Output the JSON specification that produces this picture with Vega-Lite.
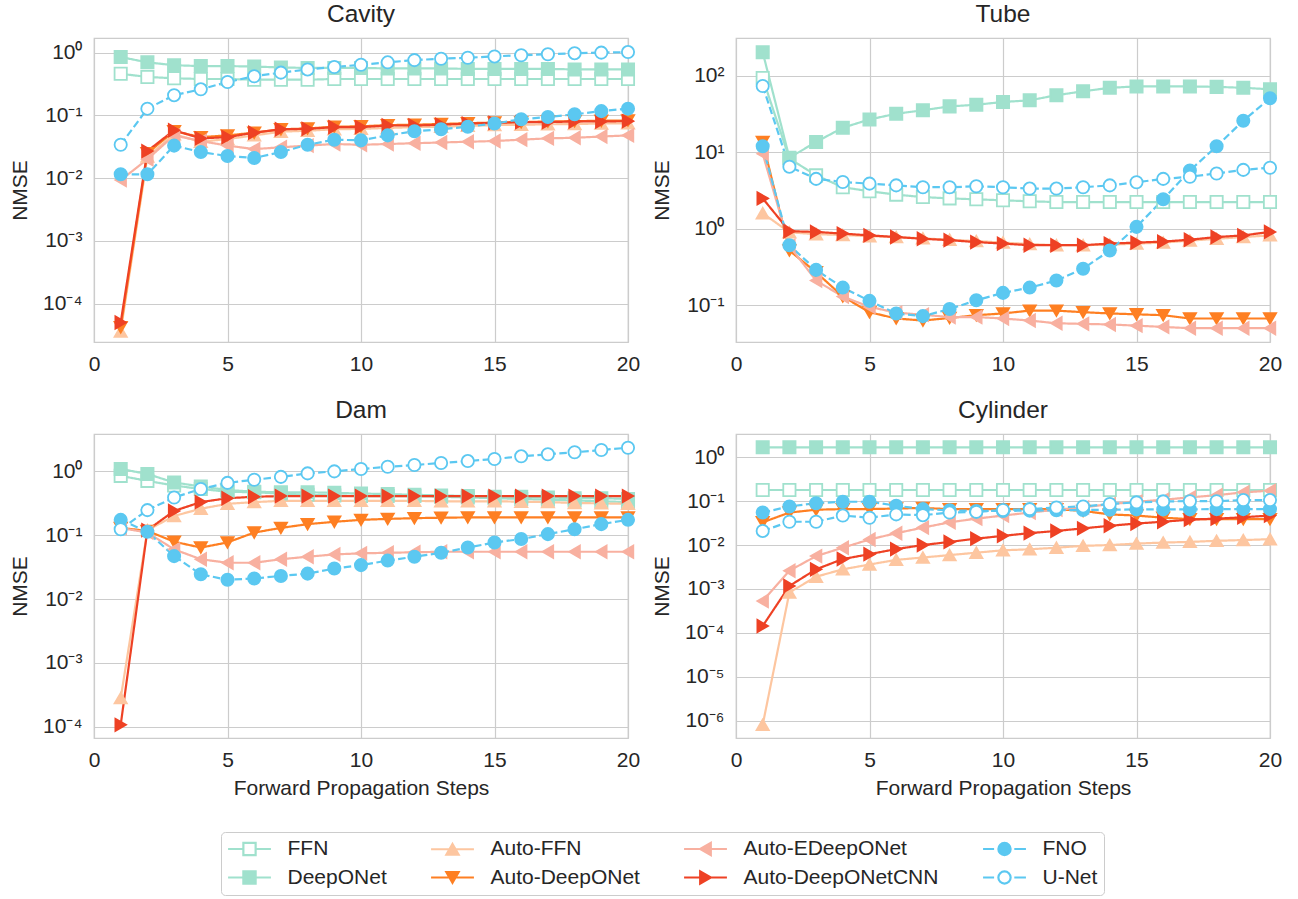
{
"$schema": "https://vega.github.io/schema/vega-lite/v6.json",
"background": "white",
"padding": {"left": 8, "top": 0, "right": 5, "bottom": 0},
"bounds": "flush",
"columns": 2,
"spacing": {"row": 92, "column": 108},
"config": {
  "font": "Liberation Sans",
  "view": {"stroke": "#cccccc", "strokeWidth": 1.25},
  "title": {"font": "Liberation Sans", "fontSize": 24.5, "fontWeight": "normal", "color": "#262626", "offset": 11},
  "axis": {"labelFont": "Liberation Sans", "labelFontSize": 21, "labelColor": "#262626", "titleFont": "Liberation Sans", "titleFontSize": 21, "titleFontWeight": "normal", "titleColor": "#262626", "gridColor": "#cccccc", "gridWidth": 1.2, "domain": false, "ticks": false, "tickSize": 0, "labelFlush": false, "labelOverlap": false, "labelBound": false},
  "legend": {"labelFont": "Liberation Sans", "labelFontSize": 21, "labelColor": "#262626", "labelLimit": 400}
},
"datasets": {
"cavity": [
{"model":"FFN","step":1,"nmse":0.46},{"model":"FFN","step":2,"nmse":0.41},{"model":"FFN","step":3,"nmse":0.39},{"model":"FFN","step":4,"nmse":0.38},{"model":"FFN","step":5,"nmse":0.38},{"model":"FFN","step":6,"nmse":0.37},{"model":"FFN","step":7,"nmse":0.37},{"model":"FFN","step":8,"nmse":0.37},{"model":"FFN","step":9,"nmse":0.38},{"model":"FFN","step":10,"nmse":0.38},{"model":"FFN","step":11,"nmse":0.38},{"model":"FFN","step":12,"nmse":0.38},{"model":"FFN","step":13,"nmse":0.38},{"model":"FFN","step":14,"nmse":0.38},{"model":"FFN","step":15,"nmse":0.38},{"model":"FFN","step":16,"nmse":0.38},{"model":"FFN","step":17,"nmse":0.38},{"model":"FFN","step":18,"nmse":0.38},{"model":"FFN","step":19,"nmse":0.38},{"model":"FFN","step":20,"nmse":0.38},
{"model":"DeepONet","step":1,"nmse":0.85},{"model":"DeepONet","step":2,"nmse":0.70},{"model":"DeepONet","step":3,"nmse":0.63},{"model":"DeepONet","step":4,"nmse":0.61},{"model":"DeepONet","step":5,"nmse":0.61},{"model":"DeepONet","step":6,"nmse":0.60},{"model":"DeepONet","step":7,"nmse":0.58},{"model":"DeepONet","step":8,"nmse":0.57},{"model":"DeepONet","step":9,"nmse":0.57},{"model":"DeepONet","step":10,"nmse":0.57},{"model":"DeepONet","step":11,"nmse":0.56},{"model":"DeepONet","step":12,"nmse":0.56},{"model":"DeepONet","step":13,"nmse":0.56},{"model":"DeepONet","step":14,"nmse":0.55},{"model":"DeepONet","step":15,"nmse":0.55},{"model":"DeepONet","step":16,"nmse":0.55},{"model":"DeepONet","step":17,"nmse":0.55},{"model":"DeepONet","step":18,"nmse":0.54},{"model":"DeepONet","step":19,"nmse":0.54},{"model":"DeepONet","step":20,"nmse":0.54},
{"model":"Auto-FFN","step":1,"nmse":0.000036},{"model":"Auto-FFN","step":2,"nmse":0.022},{"model":"Auto-FFN","step":3,"nmse":0.05},{"model":"Auto-FFN","step":4,"nmse":0.038},{"model":"Auto-FFN","step":5,"nmse":0.042},{"model":"Auto-FFN","step":6,"nmse":0.048},{"model":"Auto-FFN","step":7,"nmse":0.055},{"model":"Auto-FFN","step":8,"nmse":0.057},{"model":"Auto-FFN","step":9,"nmse":0.06},{"model":"Auto-FFN","step":10,"nmse":0.061},{"model":"Auto-FFN","step":11,"nmse":0.063},{"model":"Auto-FFN","step":12,"nmse":0.065},{"model":"Auto-FFN","step":13,"nmse":0.066},{"model":"Auto-FFN","step":14,"nmse":0.068},{"model":"Auto-FFN","step":15,"nmse":0.07},{"model":"Auto-FFN","step":16,"nmse":0.071},{"model":"Auto-FFN","step":17,"nmse":0.072},{"model":"Auto-FFN","step":18,"nmse":0.073},{"model":"Auto-FFN","step":19,"nmse":0.074},{"model":"Auto-FFN","step":20,"nmse":0.075},
{"model":"Auto-DeepONet","step":1,"nmse":0.000042},{"model":"Auto-DeepONet","step":2,"nmse":0.025},{"model":"Auto-DeepONet","step":3,"nmse":0.056},{"model":"Auto-DeepONet","step":4,"nmse":0.045},{"model":"Auto-DeepONet","step":5,"nmse":0.048},{"model":"Auto-DeepONet","step":6,"nmse":0.053},{"model":"Auto-DeepONet","step":7,"nmse":0.06},{"model":"Auto-DeepONet","step":8,"nmse":0.062},{"model":"Auto-DeepONet","step":9,"nmse":0.066},{"model":"Auto-DeepONet","step":10,"nmse":0.067},{"model":"Auto-DeepONet","step":11,"nmse":0.07},{"model":"Auto-DeepONet","step":12,"nmse":0.071},{"model":"Auto-DeepONet","step":13,"nmse":0.073},{"model":"Auto-DeepONet","step":14,"nmse":0.075},{"model":"Auto-DeepONet","step":15,"nmse":0.077},{"model":"Auto-DeepONet","step":16,"nmse":0.078},{"model":"Auto-DeepONet","step":17,"nmse":0.08},{"model":"Auto-DeepONet","step":18,"nmse":0.081},{"model":"Auto-DeepONet","step":19,"nmse":0.082},{"model":"Auto-DeepONet","step":20,"nmse":0.083},
{"model":"Auto-EDeepONet","step":1,"nmse":0.0093},{"model":"Auto-EDeepONet","step":2,"nmse":0.02},{"model":"Auto-EDeepONet","step":3,"nmse":0.048},{"model":"Auto-EDeepONet","step":4,"nmse":0.039},{"model":"Auto-EDeepONet","step":5,"nmse":0.033},{"model":"Auto-EDeepONet","step":6,"nmse":0.029},{"model":"Auto-EDeepONet","step":7,"nmse":0.031},{"model":"Auto-EDeepONet","step":8,"nmse":0.033},{"model":"Auto-EDeepONet","step":9,"nmse":0.035},{"model":"Auto-EDeepONet","step":10,"nmse":0.034},{"model":"Auto-EDeepONet","step":11,"nmse":0.035},{"model":"Auto-EDeepONet","step":12,"nmse":0.036},{"model":"Auto-EDeepONet","step":13,"nmse":0.037},{"model":"Auto-EDeepONet","step":14,"nmse":0.038},{"model":"Auto-EDeepONet","step":15,"nmse":0.039},{"model":"Auto-EDeepONet","step":16,"nmse":0.041},{"model":"Auto-EDeepONet","step":17,"nmse":0.043},{"model":"Auto-EDeepONet","step":18,"nmse":0.044},{"model":"Auto-EDeepONet","step":19,"nmse":0.046},{"model":"Auto-EDeepONet","step":20,"nmse":0.048},
{"model":"Auto-DeepONetCNN","step":1,"nmse":0.00005},{"model":"Auto-DeepONetCNN","step":2,"nmse":0.027},{"model":"Auto-DeepONetCNN","step":3,"nmse":0.058},{"model":"Auto-DeepONetCNN","step":4,"nmse":0.043},{"model":"Auto-DeepONetCNN","step":5,"nmse":0.045},{"model":"Auto-DeepONetCNN","step":6,"nmse":0.053},{"model":"Auto-DeepONetCNN","step":7,"nmse":0.06},{"model":"Auto-DeepONetCNN","step":8,"nmse":0.061},{"model":"Auto-DeepONetCNN","step":9,"nmse":0.065},{"model":"Auto-DeepONetCNN","step":10,"nmse":0.065},{"model":"Auto-DeepONetCNN","step":11,"nmse":0.069},{"model":"Auto-DeepONetCNN","step":12,"nmse":0.069},{"model":"Auto-DeepONetCNN","step":13,"nmse":0.071},{"model":"Auto-DeepONetCNN","step":14,"nmse":0.074},{"model":"Auto-DeepONetCNN","step":15,"nmse":0.076},{"model":"Auto-DeepONetCNN","step":16,"nmse":0.078},{"model":"Auto-DeepONetCNN","step":17,"nmse":0.078},{"model":"Auto-DeepONetCNN","step":18,"nmse":0.08},{"model":"Auto-DeepONetCNN","step":19,"nmse":0.08},{"model":"Auto-DeepONetCNN","step":20,"nmse":0.081},
{"model":"FNO","step":1,"nmse":0.0115},{"model":"FNO","step":2,"nmse":0.0115},{"model":"FNO","step":3,"nmse":0.033},{"model":"FNO","step":4,"nmse":0.026},{"model":"FNO","step":5,"nmse":0.0225},{"model":"FNO","step":6,"nmse":0.021},{"model":"FNO","step":7,"nmse":0.026},{"model":"FNO","step":8,"nmse":0.034},{"model":"FNO","step":9,"nmse":0.041},{"model":"FNO","step":10,"nmse":0.04},{"model":"FNO","step":11,"nmse":0.048},{"model":"FNO","step":12,"nmse":0.056},{"model":"FNO","step":13,"nmse":0.06},{"model":"FNO","step":14,"nmse":0.066},{"model":"FNO","step":15,"nmse":0.074},{"model":"FNO","step":16,"nmse":0.087},{"model":"FNO","step":17,"nmse":0.094},{"model":"FNO","step":18,"nmse":0.104},{"model":"FNO","step":19,"nmse":0.117},{"model":"FNO","step":20,"nmse":0.128},
{"model":"U-Net","step":1,"nmse":0.034},{"model":"U-Net","step":2,"nmse":0.128},{"model":"U-Net","step":3,"nmse":0.21},{"model":"U-Net","step":4,"nmse":0.26},{"model":"U-Net","step":5,"nmse":0.34},{"model":"U-Net","step":6,"nmse":0.42},{"model":"U-Net","step":7,"nmse":0.48},{"model":"U-Net","step":8,"nmse":0.54},{"model":"U-Net","step":9,"nmse":0.59},{"model":"U-Net","step":10,"nmse":0.64},{"model":"U-Net","step":11,"nmse":0.70},{"model":"U-Net","step":12,"nmse":0.76},{"model":"U-Net","step":13,"nmse":0.80},{"model":"U-Net","step":14,"nmse":0.83},{"model":"U-Net","step":15,"nmse":0.87},{"model":"U-Net","step":16,"nmse":0.91},{"model":"U-Net","step":17,"nmse":0.94},{"model":"U-Net","step":18,"nmse":0.98},{"model":"U-Net","step":19,"nmse":1.0},{"model":"U-Net","step":20,"nmse":1.02}
],
"tube": [
{"model":"FFN","step":1,"nmse":94},{"model":"FFN","step":2,"nmse":8.3},{"model":"FFN","step":3,"nmse":5.0},{"model":"FFN","step":4,"nmse":3.5},{"model":"FFN","step":5,"nmse":3.1},{"model":"FFN","step":6,"nmse":2.8},{"model":"FFN","step":7,"nmse":2.6},{"model":"FFN","step":8,"nmse":2.5},{"model":"FFN","step":9,"nmse":2.43},{"model":"FFN","step":10,"nmse":2.36},{"model":"FFN","step":11,"nmse":2.29},{"model":"FFN","step":12,"nmse":2.24},{"model":"FFN","step":13,"nmse":2.24},{"model":"FFN","step":14,"nmse":2.24},{"model":"FFN","step":15,"nmse":2.24},{"model":"FFN","step":16,"nmse":2.24},{"model":"FFN","step":17,"nmse":2.24},{"model":"FFN","step":18,"nmse":2.24},{"model":"FFN","step":19,"nmse":2.24},{"model":"FFN","step":20,"nmse":2.24},
{"model":"DeepONet","step":1,"nmse":205},{"model":"DeepONet","step":2,"nmse":8.5},{"model":"DeepONet","step":3,"nmse":13.7},{"model":"DeepONet","step":4,"nmse":21},{"model":"DeepONet","step":5,"nmse":27},{"model":"DeepONet","step":6,"nmse":32},{"model":"DeepONet","step":7,"nmse":35.6},{"model":"DeepONet","step":8,"nmse":40},{"model":"DeepONet","step":9,"nmse":42},{"model":"DeepONet","step":10,"nmse":45.7},{"model":"DeepONet","step":11,"nmse":48},{"model":"DeepONet","step":12,"nmse":56},{"model":"DeepONet","step":13,"nmse":63},{"model":"DeepONet","step":14,"nmse":70},{"model":"DeepONet","step":15,"nmse":73},{"model":"DeepONet","step":16,"nmse":73},{"model":"DeepONet","step":17,"nmse":73},{"model":"DeepONet","step":18,"nmse":72},{"model":"DeepONet","step":19,"nmse":70},{"model":"DeepONet","step":20,"nmse":67},
{"model":"Auto-FFN","step":1,"nmse":1.6},{"model":"Auto-FFN","step":2,"nmse":0.9},{"model":"Auto-FFN","step":3,"nmse":0.85},{"model":"Auto-FFN","step":4,"nmse":0.83},{"model":"Auto-FFN","step":5,"nmse":0.8},{"model":"Auto-FFN","step":6,"nmse":0.78},{"model":"Auto-FFN","step":7,"nmse":0.75},{"model":"Auto-FFN","step":8,"nmse":0.72},{"model":"Auto-FFN","step":9,"nmse":0.69},{"model":"Auto-FFN","step":10,"nmse":0.66},{"model":"Auto-FFN","step":11,"nmse":0.63},{"model":"Auto-FFN","step":12,"nmse":0.61},{"model":"Auto-FFN","step":13,"nmse":0.61},{"model":"Auto-FFN","step":14,"nmse":0.62},{"model":"Auto-FFN","step":15,"nmse":0.64},{"model":"Auto-FFN","step":16,"nmse":0.66},{"model":"Auto-FFN","step":17,"nmse":0.7},{"model":"Auto-FFN","step":18,"nmse":0.74},{"model":"Auto-FFN","step":19,"nmse":0.78},{"model":"Auto-FFN","step":20,"nmse":0.82},
{"model":"Auto-DeepONet","step":1,"nmse":13.7},{"model":"Auto-DeepONet","step":2,"nmse":0.52},{"model":"Auto-DeepONet","step":3,"nmse":0.27},{"model":"Auto-DeepONet","step":4,"nmse":0.13},{"model":"Auto-DeepONet","step":5,"nmse":0.081},{"model":"Auto-DeepONet","step":6,"nmse":0.067},{"model":"Auto-DeepONet","step":7,"nmse":0.063},{"model":"Auto-DeepONet","step":8,"nmse":0.068},{"model":"Auto-DeepONet","step":9,"nmse":0.074},{"model":"Auto-DeepONet","step":10,"nmse":0.078},{"model":"Auto-DeepONet","step":11,"nmse":0.085},{"model":"Auto-DeepONet","step":12,"nmse":0.085},{"model":"Auto-DeepONet","step":13,"nmse":0.081},{"model":"Auto-DeepONet","step":14,"nmse":0.078},{"model":"Auto-DeepONet","step":15,"nmse":0.076},{"model":"Auto-DeepONet","step":16,"nmse":0.074},{"model":"Auto-DeepONet","step":17,"nmse":0.067},{"model":"Auto-DeepONet","step":18,"nmse":0.067},{"model":"Auto-DeepONet","step":19,"nmse":0.067},{"model":"Auto-DeepONet","step":20,"nmse":0.067},
{"model":"Auto-EDeepONet","step":1,"nmse":9.6},{"model":"Auto-EDeepONet","step":2,"nmse":0.6},{"model":"Auto-EDeepONet","step":3,"nmse":0.21},{"model":"Auto-EDeepONet","step":4,"nmse":0.13},{"model":"Auto-EDeepONet","step":5,"nmse":0.095},{"model":"Auto-EDeepONet","step":6,"nmse":0.08},{"model":"Auto-EDeepONet","step":7,"nmse":0.075},{"model":"Auto-EDeepONet","step":8,"nmse":0.07},{"model":"Auto-EDeepONet","step":9,"nmse":0.07},{"model":"Auto-EDeepONet","step":10,"nmse":0.067},{"model":"Auto-EDeepONet","step":11,"nmse":0.063},{"model":"Auto-EDeepONet","step":12,"nmse":0.058},{"model":"Auto-EDeepONet","step":13,"nmse":0.057},{"model":"Auto-EDeepONet","step":14,"nmse":0.056},{"model":"Auto-EDeepONet","step":15,"nmse":0.054},{"model":"Auto-EDeepONet","step":16,"nmse":0.052},{"model":"Auto-EDeepONet","step":17,"nmse":0.05},{"model":"Auto-EDeepONet","step":18,"nmse":0.05},{"model":"Auto-EDeepONet","step":19,"nmse":0.05},{"model":"Auto-EDeepONet","step":20,"nmse":0.05},
{"model":"Auto-DeepONetCNN","step":1,"nmse":2.5},{"model":"Auto-DeepONetCNN","step":2,"nmse":0.93},{"model":"Auto-DeepONetCNN","step":3,"nmse":0.91},{"model":"Auto-DeepONetCNN","step":4,"nmse":0.865},{"model":"Auto-DeepONetCNN","step":5,"nmse":0.82},{"model":"Auto-DeepONetCNN","step":6,"nmse":0.78},{"model":"Auto-DeepONetCNN","step":7,"nmse":0.74},{"model":"Auto-DeepONetCNN","step":8,"nmse":0.71},{"model":"Auto-DeepONetCNN","step":9,"nmse":0.67},{"model":"Auto-DeepONetCNN","step":10,"nmse":0.64},{"model":"Auto-DeepONetCNN","step":11,"nmse":0.61},{"model":"Auto-DeepONetCNN","step":12,"nmse":0.61},{"model":"Auto-DeepONetCNN","step":13,"nmse":0.61},{"model":"Auto-DeepONetCNN","step":14,"nmse":0.64},{"model":"Auto-DeepONetCNN","step":15,"nmse":0.66},{"model":"Auto-DeepONetCNN","step":16,"nmse":0.68},{"model":"Auto-DeepONetCNN","step":17,"nmse":0.72},{"model":"Auto-DeepONetCNN","step":18,"nmse":0.78},{"model":"Auto-DeepONetCNN","step":19,"nmse":0.82},{"model":"Auto-DeepONetCNN","step":20,"nmse":0.91},
{"model":"FNO","step":1,"nmse":12},{"model":"FNO","step":2,"nmse":0.61},{"model":"FNO","step":3,"nmse":0.29},{"model":"FNO","step":4,"nmse":0.17},{"model":"FNO","step":5,"nmse":0.114},{"model":"FNO","step":6,"nmse":0.078},{"model":"FNO","step":7,"nmse":0.072},{"model":"FNO","step":8,"nmse":0.089},{"model":"FNO","step":9,"nmse":0.116},{"model":"FNO","step":10,"nmse":0.145},{"model":"FNO","step":11,"nmse":0.17},{"model":"FNO","step":12,"nmse":0.21},{"model":"FNO","step":13,"nmse":0.30},{"model":"FNO","step":14,"nmse":0.52},{"model":"FNO","step":15,"nmse":1.06},{"model":"FNO","step":16,"nmse":2.43},{"model":"FNO","step":17,"nmse":5.8},{"model":"FNO","step":18,"nmse":12},{"model":"FNO","step":19,"nmse":26},{"model":"FNO","step":20,"nmse":51},
{"model":"U-Net","step":1,"nmse":74},{"model":"U-Net","step":2,"nmse":6.5},{"model":"U-Net","step":3,"nmse":4.5},{"model":"U-Net","step":4,"nmse":4.1},{"model":"U-Net","step":5,"nmse":3.9},{"model":"U-Net","step":6,"nmse":3.7},{"model":"U-Net","step":7,"nmse":3.5},{"model":"U-Net","step":8,"nmse":3.5},{"model":"U-Net","step":9,"nmse":3.6},{"model":"U-Net","step":10,"nmse":3.5},{"model":"U-Net","step":11,"nmse":3.36},{"model":"U-Net","step":12,"nmse":3.36},{"model":"U-Net","step":13,"nmse":3.5},{"model":"U-Net","step":14,"nmse":3.7},{"model":"U-Net","step":15,"nmse":4.06},{"model":"U-Net","step":16,"nmse":4.5},{"model":"U-Net","step":17,"nmse":4.8},{"model":"U-Net","step":18,"nmse":5.3},{"model":"U-Net","step":19,"nmse":5.9},{"model":"U-Net","step":20,"nmse":6.3}
],
"dam": [
{"model":"FFN","step":1,"nmse":0.85},{"model":"FFN","step":2,"nmse":0.71},{"model":"FFN","step":3,"nmse":0.60},{"model":"FFN","step":4,"nmse":0.53},{"model":"FFN","step":5,"nmse":0.48},{"model":"FFN","step":6,"nmse":0.47},{"model":"FFN","step":7,"nmse":0.45},{"model":"FFN","step":8,"nmse":0.43},{"model":"FFN","step":9,"nmse":0.42},{"model":"FFN","step":10,"nmse":0.41},{"model":"FFN","step":11,"nmse":0.41},{"model":"FFN","step":12,"nmse":0.41},{"model":"FFN","step":13,"nmse":0.40},{"model":"FFN","step":14,"nmse":0.39},{"model":"FFN","step":15,"nmse":0.38},{"model":"FFN","step":16,"nmse":0.37},{"model":"FFN","step":17,"nmse":0.36},{"model":"FFN","step":18,"nmse":0.35},{"model":"FFN","step":19,"nmse":0.34},{"model":"FFN","step":20,"nmse":0.33},
{"model":"DeepONet","step":1,"nmse":1.09},{"model":"DeepONet","step":2,"nmse":0.91},{"model":"DeepONet","step":3,"nmse":0.67},{"model":"DeepONet","step":4,"nmse":0.58},{"model":"DeepONet","step":5,"nmse":0.51},{"model":"DeepONet","step":6,"nmse":0.48},{"model":"DeepONet","step":7,"nmse":0.47},{"model":"DeepONet","step":8,"nmse":0.47},{"model":"DeepONet","step":9,"nmse":0.46},{"model":"DeepONet","step":10,"nmse":0.45},{"model":"DeepONet","step":11,"nmse":0.44},{"model":"DeepONet","step":12,"nmse":0.43},{"model":"DeepONet","step":13,"nmse":0.42},{"model":"DeepONet","step":14,"nmse":0.41},{"model":"DeepONet","step":15,"nmse":0.40},{"model":"DeepONet","step":16,"nmse":0.40},{"model":"DeepONet","step":17,"nmse":0.39},{"model":"DeepONet","step":18,"nmse":0.38},{"model":"DeepONet","step":19,"nmse":0.38},{"model":"DeepONet","step":20,"nmse":0.37},
{"model":"Auto-FFN","step":1,"nmse":0.00028},{"model":"Auto-FFN","step":2,"nmse":0.12},{"model":"Auto-FFN","step":3,"nmse":0.2},{"model":"Auto-FFN","step":4,"nmse":0.26},{"model":"Auto-FFN","step":5,"nmse":0.31},{"model":"Auto-FFN","step":6,"nmse":0.33},{"model":"Auto-FFN","step":7,"nmse":0.345},{"model":"Auto-FFN","step":8,"nmse":0.345},{"model":"Auto-FFN","step":9,"nmse":0.345},{"model":"Auto-FFN","step":10,"nmse":0.345},{"model":"Auto-FFN","step":11,"nmse":0.345},{"model":"Auto-FFN","step":12,"nmse":0.345},{"model":"Auto-FFN","step":13,"nmse":0.34},{"model":"Auto-FFN","step":14,"nmse":0.34},{"model":"Auto-FFN","step":15,"nmse":0.34},{"model":"Auto-FFN","step":16,"nmse":0.335},{"model":"Auto-FFN","step":17,"nmse":0.33},{"model":"Auto-FFN","step":18,"nmse":0.32},{"model":"Auto-FFN","step":19,"nmse":0.315},{"model":"Auto-FFN","step":20,"nmse":0.31},
{"model":"Auto-DeepONet","step":1,"nmse":0.13},{"model":"Auto-DeepONet","step":2,"nmse":0.117},{"model":"Auto-DeepONet","step":3,"nmse":0.079},{"model":"Auto-DeepONet","step":4,"nmse":0.064},{"model":"Auto-DeepONet","step":5,"nmse":0.077},{"model":"Auto-DeepONet","step":6,"nmse":0.11},{"model":"Auto-DeepONet","step":7,"nmse":0.13},{"model":"Auto-DeepONet","step":8,"nmse":0.149},{"model":"Auto-DeepONet","step":9,"nmse":0.162},{"model":"Auto-DeepONet","step":10,"nmse":0.174},{"model":"Auto-DeepONet","step":11,"nmse":0.18},{"model":"Auto-DeepONet","step":12,"nmse":0.185},{"model":"Auto-DeepONet","step":13,"nmse":0.188},{"model":"Auto-DeepONet","step":14,"nmse":0.19},{"model":"Auto-DeepONet","step":15,"nmse":0.19},{"model":"Auto-DeepONet","step":16,"nmse":0.19},{"model":"Auto-DeepONet","step":17,"nmse":0.19},{"model":"Auto-DeepONet","step":18,"nmse":0.19},{"model":"Auto-DeepONet","step":19,"nmse":0.19},{"model":"Auto-DeepONet","step":20,"nmse":0.19},
{"model":"Auto-EDeepONet","step":1,"nmse":0.13},{"model":"Auto-EDeepONet","step":2,"nmse":0.11},{"model":"Auto-EDeepONet","step":3,"nmse":0.06},{"model":"Auto-EDeepONet","step":4,"nmse":0.042},{"model":"Auto-EDeepONet","step":5,"nmse":0.037},{"model":"Auto-EDeepONet","step":6,"nmse":0.037},{"model":"Auto-EDeepONet","step":7,"nmse":0.042},{"model":"Auto-EDeepONet","step":8,"nmse":0.046},{"model":"Auto-EDeepONet","step":9,"nmse":0.05},{"model":"Auto-EDeepONet","step":10,"nmse":0.052},{"model":"Auto-EDeepONet","step":11,"nmse":0.053},{"model":"Auto-EDeepONet","step":12,"nmse":0.054},{"model":"Auto-EDeepONet","step":13,"nmse":0.055},{"model":"Auto-EDeepONet","step":14,"nmse":0.055},{"model":"Auto-EDeepONet","step":15,"nmse":0.055},{"model":"Auto-EDeepONet","step":16,"nmse":0.055},{"model":"Auto-EDeepONet","step":17,"nmse":0.055},{"model":"Auto-EDeepONet","step":18,"nmse":0.055},{"model":"Auto-EDeepONet","step":19,"nmse":0.055},{"model":"Auto-EDeepONet","step":20,"nmse":0.055},
{"model":"Auto-DeepONetCNN","step":1,"nmse":0.000107},{"model":"Auto-DeepONetCNN","step":2,"nmse":0.12},{"model":"Auto-DeepONetCNN","step":3,"nmse":0.24},{"model":"Auto-DeepONetCNN","step":4,"nmse":0.33},{"model":"Auto-DeepONetCNN","step":5,"nmse":0.38},{"model":"Auto-DeepONetCNN","step":6,"nmse":0.40},{"model":"Auto-DeepONetCNN","step":7,"nmse":0.41},{"model":"Auto-DeepONetCNN","step":8,"nmse":0.41},{"model":"Auto-DeepONetCNN","step":9,"nmse":0.41},{"model":"Auto-DeepONetCNN","step":10,"nmse":0.41},{"model":"Auto-DeepONetCNN","step":11,"nmse":0.41},{"model":"Auto-DeepONetCNN","step":12,"nmse":0.41},{"model":"Auto-DeepONetCNN","step":13,"nmse":0.41},{"model":"Auto-DeepONetCNN","step":14,"nmse":0.41},{"model":"Auto-DeepONetCNN","step":15,"nmse":0.41},{"model":"Auto-DeepONetCNN","step":16,"nmse":0.41},{"model":"Auto-DeepONetCNN","step":17,"nmse":0.41},{"model":"Auto-DeepONetCNN","step":18,"nmse":0.41},{"model":"Auto-DeepONetCNN","step":19,"nmse":0.41},{"model":"Auto-DeepONetCNN","step":20,"nmse":0.41},
{"model":"FNO","step":1,"nmse":0.174},{"model":"FNO","step":2,"nmse":0.113},{"model":"FNO","step":3,"nmse":0.047},{"model":"FNO","step":4,"nmse":0.0244},{"model":"FNO","step":5,"nmse":0.02},{"model":"FNO","step":6,"nmse":0.021},{"model":"FNO","step":7,"nmse":0.023},{"model":"FNO","step":8,"nmse":0.025},{"model":"FNO","step":9,"nmse":0.030},{"model":"FNO","step":10,"nmse":0.034},{"model":"FNO","step":11,"nmse":0.04},{"model":"FNO","step":12,"nmse":0.046},{"model":"FNO","step":13,"nmse":0.053},{"model":"FNO","step":14,"nmse":0.064},{"model":"FNO","step":15,"nmse":0.077},{"model":"FNO","step":16,"nmse":0.087},{"model":"FNO","step":17,"nmse":0.104},{"model":"FNO","step":18,"nmse":0.124},{"model":"FNO","step":19,"nmse":0.149},{"model":"FNO","step":20,"nmse":0.174},
{"model":"U-Net","step":1,"nmse":0.124},{"model":"U-Net","step":2,"nmse":0.247},{"model":"U-Net","step":3,"nmse":0.39},{"model":"U-Net","step":4,"nmse":0.53},{"model":"U-Net","step":5,"nmse":0.66},{"model":"U-Net","step":6,"nmse":0.74},{"model":"U-Net","step":7,"nmse":0.82},{"model":"U-Net","step":8,"nmse":0.93},{"model":"U-Net","step":9,"nmse":1.0},{"model":"U-Net","step":10,"nmse":1.09},{"model":"U-Net","step":11,"nmse":1.18},{"model":"U-Net","step":12,"nmse":1.26},{"model":"U-Net","step":13,"nmse":1.35},{"model":"U-Net","step":14,"nmse":1.45},{"model":"U-Net","step":15,"nmse":1.56},{"model":"U-Net","step":16,"nmse":1.72},{"model":"U-Net","step":17,"nmse":1.85},{"model":"U-Net","step":18,"nmse":1.99},{"model":"U-Net","step":19,"nmse":2.16},{"model":"U-Net","step":20,"nmse":2.35}
],
"cylinder": [
{"model":"FFN","step":1,"nmse":0.18},{"model":"FFN","step":2,"nmse":0.18},{"model":"FFN","step":3,"nmse":0.18},{"model":"FFN","step":4,"nmse":0.18},{"model":"FFN","step":5,"nmse":0.18},{"model":"FFN","step":6,"nmse":0.18},{"model":"FFN","step":7,"nmse":0.18},{"model":"FFN","step":8,"nmse":0.18},{"model":"FFN","step":9,"nmse":0.18},{"model":"FFN","step":10,"nmse":0.18},{"model":"FFN","step":11,"nmse":0.18},{"model":"FFN","step":12,"nmse":0.18},{"model":"FFN","step":13,"nmse":0.18},{"model":"FFN","step":14,"nmse":0.18},{"model":"FFN","step":15,"nmse":0.18},{"model":"FFN","step":16,"nmse":0.18},{"model":"FFN","step":17,"nmse":0.18},{"model":"FFN","step":18,"nmse":0.18},{"model":"FFN","step":19,"nmse":0.18},{"model":"FFN","step":20,"nmse":0.18},
{"model":"DeepONet","step":1,"nmse":1.69},{"model":"DeepONet","step":2,"nmse":1.69},{"model":"DeepONet","step":3,"nmse":1.69},{"model":"DeepONet","step":4,"nmse":1.69},{"model":"DeepONet","step":5,"nmse":1.69},{"model":"DeepONet","step":6,"nmse":1.69},{"model":"DeepONet","step":7,"nmse":1.69},{"model":"DeepONet","step":8,"nmse":1.69},{"model":"DeepONet","step":9,"nmse":1.69},{"model":"DeepONet","step":10,"nmse":1.69},{"model":"DeepONet","step":11,"nmse":1.69},{"model":"DeepONet","step":12,"nmse":1.69},{"model":"DeepONet","step":13,"nmse":1.69},{"model":"DeepONet","step":14,"nmse":1.69},{"model":"DeepONet","step":15,"nmse":1.69},{"model":"DeepONet","step":16,"nmse":1.69},{"model":"DeepONet","step":17,"nmse":1.69},{"model":"DeepONet","step":18,"nmse":1.69},{"model":"DeepONet","step":19,"nmse":1.69},{"model":"DeepONet","step":20,"nmse":1.69},
{"model":"Auto-FFN","step":1,"nmse":0.0000008},{"model":"Auto-FFN","step":2,"nmse":0.00083},{"model":"Auto-FFN","step":3,"nmse":0.0019},{"model":"Auto-FFN","step":4,"nmse":0.0028},{"model":"Auto-FFN","step":5,"nmse":0.0036},{"model":"Auto-FFN","step":6,"nmse":0.0046},{"model":"Auto-FFN","step":7,"nmse":0.0052},{"model":"Auto-FFN","step":8,"nmse":0.0059},{"model":"Auto-FFN","step":9,"nmse":0.0067},{"model":"Auto-FFN","step":10,"nmse":0.0076},{"model":"Auto-FFN","step":11,"nmse":0.008},{"model":"Auto-FFN","step":12,"nmse":0.0087},{"model":"Auto-FFN","step":13,"nmse":0.0096},{"model":"Auto-FFN","step":14,"nmse":0.01},{"model":"Auto-FFN","step":15,"nmse":0.0108},{"model":"Auto-FFN","step":16,"nmse":0.0114},{"model":"Auto-FFN","step":17,"nmse":0.0118},{"model":"Auto-FFN","step":18,"nmse":0.0125},{"model":"Auto-FFN","step":19,"nmse":0.013},{"model":"Auto-FFN","step":20,"nmse":0.0136},
{"model":"Auto-DeepONet","step":1,"nmse":0.033},{"model":"Auto-DeepONet","step":2,"nmse":0.055},{"model":"Auto-DeepONet","step":3,"nmse":0.064},{"model":"Auto-DeepONet","step":4,"nmse":0.066},{"model":"Auto-DeepONet","step":5,"nmse":0.066},{"model":"Auto-DeepONet","step":6,"nmse":0.068},{"model":"Auto-DeepONet","step":7,"nmse":0.07},{"model":"Auto-DeepONet","step":8,"nmse":0.066},{"model":"Auto-DeepONet","step":9,"nmse":0.066},{"model":"Auto-DeepONet","step":10,"nmse":0.066},{"model":"Auto-DeepONet","step":11,"nmse":0.066},{"model":"Auto-DeepONet","step":12,"nmse":0.066},{"model":"Auto-DeepONet","step":13,"nmse":0.06},{"model":"Auto-DeepONet","step":14,"nmse":0.05},{"model":"Auto-DeepONet","step":15,"nmse":0.047},{"model":"Auto-DeepONet","step":16,"nmse":0.042},{"model":"Auto-DeepONet","step":17,"nmse":0.039},{"model":"Auto-DeepONet","step":18,"nmse":0.039},{"model":"Auto-DeepONet","step":19,"nmse":0.039},{"model":"Auto-DeepONet","step":20,"nmse":0.039},
{"model":"Auto-EDeepONet","step":1,"nmse":0.00053},{"model":"Auto-EDeepONet","step":2,"nmse":0.0026},{"model":"Auto-EDeepONet","step":3,"nmse":0.0056},{"model":"Auto-EDeepONet","step":4,"nmse":0.0087},{"model":"Auto-EDeepONet","step":5,"nmse":0.0134},{"model":"Auto-EDeepONet","step":6,"nmse":0.0186},{"model":"Auto-EDeepONet","step":7,"nmse":0.025},{"model":"Auto-EDeepONet","step":8,"nmse":0.033},{"model":"Auto-EDeepONet","step":9,"nmse":0.04},{"model":"Auto-EDeepONet","step":10,"nmse":0.047},{"model":"Auto-EDeepONet","step":11,"nmse":0.055},{"model":"Auto-EDeepONet","step":12,"nmse":0.064},{"model":"Auto-EDeepONet","step":13,"nmse":0.072},{"model":"Auto-EDeepONet","step":14,"nmse":0.086},{"model":"Auto-EDeepONet","step":15,"nmse":0.097},{"model":"Auto-EDeepONet","step":16,"nmse":0.108},{"model":"Auto-EDeepONet","step":17,"nmse":0.122},{"model":"Auto-EDeepONet","step":18,"nmse":0.137},{"model":"Auto-EDeepONet","step":19,"nmse":0.159},{"model":"Auto-EDeepONet","step":20,"nmse":0.173},
{"model":"Auto-DeepONetCNN","step":1,"nmse":0.000143},{"model":"Auto-DeepONetCNN","step":2,"nmse":0.00117},{"model":"Auto-DeepONetCNN","step":3,"nmse":0.0028},{"model":"Auto-DeepONetCNN","step":4,"nmse":0.0048},{"model":"Auto-DeepONetCNN","step":5,"nmse":0.0062},{"model":"Auto-DeepONetCNN","step":6,"nmse":0.0081},{"model":"Auto-DeepONetCNN","step":7,"nmse":0.01},{"model":"Auto-DeepONetCNN","step":8,"nmse":0.0118},{"model":"Auto-DeepONetCNN","step":9,"nmse":0.014},{"model":"Auto-DeepONetCNN","step":10,"nmse":0.0162},{"model":"Auto-DeepONetCNN","step":11,"nmse":0.0187},{"model":"Auto-DeepONetCNN","step":12,"nmse":0.021},{"model":"Auto-DeepONetCNN","step":13,"nmse":0.024},{"model":"Auto-DeepONetCNN","step":14,"nmse":0.0275},{"model":"Auto-DeepONetCNN","step":15,"nmse":0.031},{"model":"Auto-DeepONetCNN","step":16,"nmse":0.034},{"model":"Auto-DeepONetCNN","step":17,"nmse":0.038},{"model":"Auto-DeepONetCNN","step":18,"nmse":0.04},{"model":"Auto-DeepONetCNN","step":19,"nmse":0.043},{"model":"Auto-DeepONetCNN","step":20,"nmse":0.047},
{"model":"FNO","step":1,"nmse":0.055},{"model":"FNO","step":2,"nmse":0.076},{"model":"FNO","step":3,"nmse":0.09},{"model":"FNO","step":4,"nmse":0.097},{"model":"FNO","step":5,"nmse":0.097},{"model":"FNO","step":6,"nmse":0.079},{"model":"FNO","step":7,"nmse":0.066},{"model":"FNO","step":8,"nmse":0.062},{"model":"FNO","step":9,"nmse":0.06},{"model":"FNO","step":10,"nmse":0.06},{"model":"FNO","step":11,"nmse":0.061},{"model":"FNO","step":12,"nmse":0.062},{"model":"FNO","step":13,"nmse":0.063},{"model":"FNO","step":14,"nmse":0.064},{"model":"FNO","step":15,"nmse":0.065},{"model":"FNO","step":16,"nmse":0.065},{"model":"FNO","step":17,"nmse":0.065},{"model":"FNO","step":18,"nmse":0.066},{"model":"FNO","step":19,"nmse":0.066},{"model":"FNO","step":20,"nmse":0.066},
{"model":"U-Net","step":1,"nmse":0.021},{"model":"U-Net","step":2,"nmse":0.034},{"model":"U-Net","step":3,"nmse":0.034},{"model":"U-Net","step":4,"nmse":0.047},{"model":"U-Net","step":5,"nmse":0.042},{"model":"U-Net","step":6,"nmse":0.05},{"model":"U-Net","step":7,"nmse":0.048},{"model":"U-Net","step":8,"nmse":0.055},{"model":"U-Net","step":9,"nmse":0.057},{"model":"U-Net","step":10,"nmse":0.063},{"model":"U-Net","step":11,"nmse":0.066},{"model":"U-Net","step":12,"nmse":0.072},{"model":"U-Net","step":13,"nmse":0.076},{"model":"U-Net","step":14,"nmse":0.086},{"model":"U-Net","step":15,"nmse":0.094},{"model":"U-Net","step":16,"nmse":0.099},{"model":"U-Net","step":17,"nmse":0.10},{"model":"U-Net","step":18,"nmse":0.10},{"model":"U-Net","step":19,"nmse":0.106},{"model":"U-Net","step":20,"nmse":0.106}
]
},
"concat": [
{
 "data": {"name": "cavity"}, "title": "Cavity", "width": 534, "height": 304,
 "encoding": {
  "x": {"field": "step", "type": "quantitative", "scale": {"domain": [0, 20], "nice": false}, "axis": {"values": [0,5,10,15,20], "title": null, "labelPadding": 11}},
  "y": {"field": "nmse", "type": "quantitative", "scale": {"type": "log", "domain": [0.0000245, 1.71], "nice": false}, "axis": {"values": [0.0001,0.001,0.01,0.1,1], "title": "NMSE", "titleX": -64, "labelPadding": 12, "labelExpr": "'10' + (datum.value < 0.99 ? '⁻' : '') + substring('⁰¹²³⁴⁵⁶⁷⁸⁹', abs(round(log(datum.value)/LN10)), abs(round(log(datum.value)/LN10)) + 1)"}}
 },
 "layer": [
  {"mark": {"type": "line", "strokeWidth": 2.2},
   "encoding": {
    "color": {"field": "model", "type": "nominal", "legend": null, "scale": {"domain": ["FFN","DeepONet","Auto-FFN","Auto-DeepONet","Auto-EDeepONet","Auto-DeepONetCNN","FNO","U-Net"], "range": ["#a0e1cd","#a0e1cd","#fdc6a0","#fe7f22","#f8b0a0","#ee4124","#5bc8f1","#5bc8f1"]}},
    "strokeDash": {"field": "model", "type": "nominal", "legend": null, "scale": {"domain": ["FFN","DeepONet","Auto-FFN","Auto-DeepONet","Auto-EDeepONet","Auto-DeepONetCNN","FNO","U-Net"], "range": [[1,0],[1,0],[1,0],[1,0],[1,0],[1,0],[7.5,3.5],[7.5,3.5]]}}
   }},
  {"mark": {"type": "point", "size": 150, "strokeWidth": 1.8, "opacity": 1, "filled": true},
   "encoding": {
    "shape": {"field": "model", "type": "nominal", "legend": null, "scale": {"domain": ["FFN","DeepONet","Auto-FFN","Auto-DeepONet","Auto-EDeepONet","Auto-DeepONetCNN","FNO","U-Net"], "range": ["square","square","triangle-up","triangle-down","triangle-left","triangle-right","circle","circle"]}},
    "fill": {"field": "model", "type": "nominal", "legend": null, "scale": {"domain": ["FFN","DeepONet","Auto-FFN","Auto-DeepONet","Auto-EDeepONet","Auto-DeepONetCNN","FNO","U-Net"], "range": ["#ffffff","#a0e1cd","#fdc6a0","#fe7f22","#f8b0a0","#ee4124","#5bc8f1","#ffffff"]}},
    "stroke": {"field": "model", "type": "nominal", "legend": null, "scale": {"domain": ["FFN","DeepONet","Auto-FFN","Auto-DeepONet","Auto-EDeepONet","Auto-DeepONetCNN","FNO","U-Net"], "range": ["#a0e1cd","#a0e1cd","#fdc6a0","#fe7f22","#f8b0a0","#ee4124","#5bc8f1","#5bc8f1"]}}
   }},
  {"transform": [{"filter": {"field": "step", "equal": 1}}],
   "mark": {"type": "point", "size": 150, "strokeWidth": 2.2, "opacity": 0, "filled": true},
   "encoding": {
    "shape": {"field": "model", "type": "nominal", "scale": {"domain": ["FFN","DeepONet","Auto-FFN","Auto-DeepONet","Auto-EDeepONet","Auto-DeepONetCNN","FNO","U-Net"], "range": ["M-3.5,0H-1M1,0H3.5M-1,-1H1V1H-1Z","M-3.5,0H-1M1,0H3.5M-1,-1H1V1H-1Z","M-3.5,0H-0.5M0.5,0H3.5M0,-0.866L1,0.866L-1,0.866Z","M-3.5,0H-0.5M0.5,0H3.5M0,0.866L1,-0.866L-1,-0.866Z","M-3.5,0H-0.866M0.866,0H3.5M-0.866,0L0.866,-1L0.866,1Z","M-3.5,0H-0.866M0.866,0H3.5M0.866,0L-0.866,-1L-0.866,1Z","M-3.5,0H-1.7M1.6,0H3.5M-1,0A1,1,0,1,1,1,0A1,1,0,1,1,-1,0Z","M-3.5,0H-1.7M1.6,0H3.5M-1,0A1,1,0,1,1,1,0A1,1,0,1,1,-1,0Z"]},
      "legend": {"orient": "none", "legendX": 127, "legendY": 794, "title": null, "columns": 4, "symbolSize": 150, "symbolStrokeWidth": 2.2, "symbolOpacity": 1, "symbolOffset": 12, "labelOffset": 27.5, "columnPadding": 39, "rowPadding": 6, "padding": 6, "strokeColor": "#cccccc", "cornerRadius": 4, "fillColor": "white"}},
    "fill": {"field": "model", "type": "nominal", "scale": {"domain": ["FFN","DeepONet","Auto-FFN","Auto-DeepONet","Auto-EDeepONet","Auto-DeepONetCNN","FNO","U-Net"], "range": ["#ffffff","#a0e1cd","#fdc6a0","#fe7f22","#f8b0a0","#ee4124","#5bc8f1","#ffffff"]}},
    "stroke": {"field": "model", "type": "nominal", "scale": {"domain": ["FFN","DeepONet","Auto-FFN","Auto-DeepONet","Auto-EDeepONet","Auto-DeepONetCNN","FNO","U-Net"], "range": ["#a0e1cd","#a0e1cd","#fdc6a0","#fe7f22","#f8b0a0","#ee4124","#5bc8f1","#5bc8f1"]}}
   }}
 ],
 "resolve": {"scale": {"shape": "independent", "fill": "independent", "stroke": "independent"}}
},
{
 "data": {"name": "tube"}, "title": "Tube", "width": 534, "height": 304,
 "encoding": {
  "x": {"field": "step", "type": "quantitative", "scale": {"domain": [0, 20], "nice": false}, "axis": {"values": [0,5,10,15,20], "title": null, "labelPadding": 11}},
  "y": {"field": "nmse", "type": "quantitative", "scale": {"type": "log", "domain": [0.033, 314], "nice": false}, "axis": {"values": [0.1,1,10,100], "title": "NMSE", "titleX": -64, "labelPadding": 12, "labelExpr": "'10' + (datum.value < 0.99 ? '⁻' : '') + substring('⁰¹²³⁴⁵⁶⁷⁸⁹', abs(round(log(datum.value)/LN10)), abs(round(log(datum.value)/LN10)) + 1)"}}
 },
 "layer": [
  {"mark": {"type": "line", "strokeWidth": 2.2},
   "encoding": {
    "color": {"field": "model", "type": "nominal", "legend": null},
    "strokeDash": {"field": "model", "type": "nominal", "legend": null}
   }},
  {"mark": {"type": "point", "size": 150, "strokeWidth": 1.8, "opacity": 1, "filled": true},
   "encoding": {
    "shape": {"field": "model", "type": "nominal", "legend": null, "scale": {"domain": ["FFN","DeepONet","Auto-FFN","Auto-DeepONet","Auto-EDeepONet","Auto-DeepONetCNN","FNO","U-Net"], "range": ["square","square","triangle-up","triangle-down","triangle-left","triangle-right","circle","circle"]}},
    "fill": {"field": "model", "type": "nominal", "legend": null, "scale": {"domain": ["FFN","DeepONet","Auto-FFN","Auto-DeepONet","Auto-EDeepONet","Auto-DeepONetCNN","FNO","U-Net"], "range": ["#ffffff","#a0e1cd","#fdc6a0","#fe7f22","#f8b0a0","#ee4124","#5bc8f1","#ffffff"]}},
    "stroke": {"field": "model", "type": "nominal", "legend": null, "scale": {"domain": ["FFN","DeepONet","Auto-FFN","Auto-DeepONet","Auto-EDeepONet","Auto-DeepONetCNN","FNO","U-Net"], "range": ["#a0e1cd","#a0e1cd","#fdc6a0","#fe7f22","#f8b0a0","#ee4124","#5bc8f1","#5bc8f1"]}}
   }}
 ]
},
{
 "data": {"name": "dam"}, "title": "Dam", "width": 534, "height": 304,
 "encoding": {
  "x": {"field": "step", "type": "quantitative", "scale": {"domain": [0, 20], "nice": false}, "axis": {"values": [0,5,10,15,20], "title": "Forward Propagation Steps", "labelPadding": 11, "titlePadding": 7}},
  "y": {"field": "nmse", "type": "quantitative", "scale": {"type": "log", "domain": [0.0000665, 3.85], "nice": false}, "axis": {"values": [0.0001,0.001,0.01,0.1,1], "title": "NMSE", "titleX": -64, "labelPadding": 12, "labelExpr": "'10' + (datum.value < 0.99 ? '⁻' : '') + substring('⁰¹²³⁴⁵⁶⁷⁸⁹', abs(round(log(datum.value)/LN10)), abs(round(log(datum.value)/LN10)) + 1)"}}
 },
 "layer": [
  {"mark": {"type": "line", "strokeWidth": 2.2},
   "encoding": {
    "color": {"field": "model", "type": "nominal", "legend": null},
    "strokeDash": {"field": "model", "type": "nominal", "legend": null}
   }},
  {"mark": {"type": "point", "size": 150, "strokeWidth": 1.8, "opacity": 1, "filled": true},
   "encoding": {
    "shape": {"field": "model", "type": "nominal", "legend": null},
    "fill": {"field": "model", "type": "nominal", "legend": null},
    "stroke": {"field": "model", "type": "nominal", "legend": null}
   }}
 ]
},
{
 "data": {"name": "cylinder"}, "title": "Cylinder", "width": 534, "height": 304,
 "encoding": {
  "x": {"field": "step", "type": "quantitative", "scale": {"domain": [0, 20], "nice": false}, "axis": {"values": [0,5,10,15,20], "title": "Forward Propagation Steps", "labelPadding": 11, "titlePadding": 7}},
  "y": {"field": "nmse", "type": "quantitative", "scale": {"type": "log", "domain": [0.0000004, 3.4], "nice": false}, "axis": {"values": [0.000001,0.00001,0.0001,0.001,0.01,0.1,1], "title": "NMSE", "titleX": -64, "labelPadding": 12, "labelExpr": "'10' + (datum.value < 0.99 ? '⁻' : '') + substring('⁰¹²³⁴⁵⁶⁷⁸⁹', abs(round(log(datum.value)/LN10)), abs(round(log(datum.value)/LN10)) + 1)"}}
 },
 "layer": [
  {"mark": {"type": "line", "strokeWidth": 2.2},
   "encoding": {
    "color": {"field": "model", "type": "nominal", "legend": null},
    "strokeDash": {"field": "model", "type": "nominal", "legend": null}
   }},
  {"mark": {"type": "point", "size": 150, "strokeWidth": 1.8, "opacity": 1, "filled": true},
   "encoding": {
    "shape": {"field": "model", "type": "nominal", "legend": null},
    "fill": {"field": "model", "type": "nominal", "legend": null},
    "stroke": {"field": "model", "type": "nominal", "legend": null}
   }}
 ]
}
]
}
